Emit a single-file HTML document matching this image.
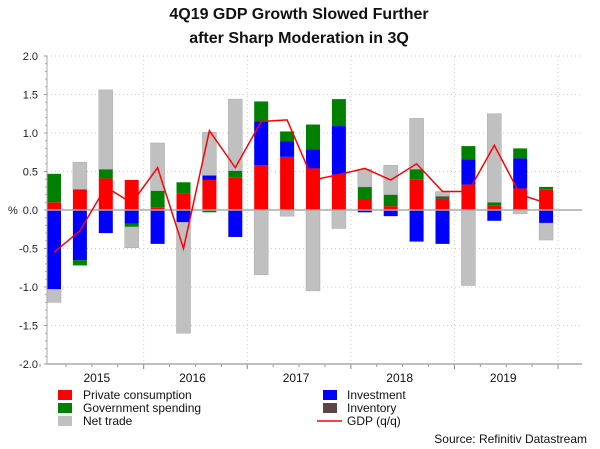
<!DOCTYPE html>
<html><head><meta charset="utf-8"><style>
html,body{margin:0;padding:0;background:#fff;}
svg{display:block;font-family:"Liberation Sans",Arial,sans-serif;}
</style></head><body>
<svg id="chart" width="600" height="449" viewBox="0 0 600 449">
<g>
<text x="299" y="19" text-anchor="middle" font-size="16" font-weight="bold" fill="#111">4Q19 GDP Growth Slowed Further</text>
<text x="299" y="43" text-anchor="middle" font-size="16" font-weight="bold" fill="#111">after Sharp Moderation in 3Q</text>
</g>
<g id="grid"></g>
<g id="bars"></g>
<g id="axes"></g>
<g id="line"></g>
<text x="8" y="214" font-size="11" fill="#222">%</text>
<g>
<g><rect x="58" y="390" width="14" height="10" fill="#ff0000"/><text x="83" y="399" font-size="12" fill="#111">Private consumption</text></g>
<g><rect x="58" y="403" width="14" height="10" fill="#008000"/><text x="83" y="412" font-size="12" fill="#111">Government spending</text></g>
<g><rect x="58" y="416" width="14" height="10" fill="#c0c0c0"/><text x="83" y="425" font-size="12" fill="#111">Net trade</text></g>
<g><rect x="323" y="390" width="14" height="10" fill="#0000ff"/><text x="347" y="399" font-size="12" fill="#111">Investment</text></g>
<g><rect x="323" y="403" width="14" height="10" fill="#5a4444"/><text x="347" y="412" font-size="12" fill="#111">Inventory</text></g>
<g><line x1="317" y1="421" x2="342" y2="421" stroke="#ff0000" stroke-width="1.5"/><text x="347" y="425" font-size="12" fill="#111">GDP (q/q)</text></g>
</g>
<text x="587" y="443" text-anchor="end" font-size="12" fill="#111">Source: Refinitiv Datastream</text>
</svg>
<script>
const years = ["2015","2016","2017","2018","2019"];
const yTicks = [2.0,1.5,1.0,0.5,0.0,-0.5,-1.0,-1.5,-2.0];
const privateCons = [0.10,0.27,0.41,0.39,0.03,0.22,0.39,0.42,0.58,0.69,0.54,0.46,0.13,0.05,0.40,0.13,0.33,0.06,0.28,0.27];
const investment = [-1.03,-0.65,-0.30,-0.18,-0.44,-0.16,0.06,-0.35,0.57,0.20,0.25,0.63,-0.03,-0.08,-0.41,-0.44,0.33,-0.14,0.39,-0.17];
const government = [0.37,-0.07,0.12,-0.04,0.22,0.14,-0.03,0.09,0.26,0.13,0.32,0.35,0.17,0.15,0.13,0.02,0.17,0.04,0.13,0.03];
const inventory = [0,0,0,0,0,0,0,0,0,0,0,0,0,0,0,0.03,0,0,0,0];
const netTrade = [-0.17,0.35,1.03,-0.27,0.62,-1.44,0.56,0.93,-0.84,-0.08,-1.05,-0.24,0.23,0.38,0.66,0.06,-0.98,1.15,-0.05,-0.22];
const gdp = [-0.55,-0.27,0.30,0.09,0.55,-0.50,1.03,0.55,1.15,1.17,0.39,0.46,0.54,0.39,0.60,0.24,0.24,0.84,0.20,0.09];

const NS="http://www.w3.org/2000/svg";
const X0=47, X1=582, Y_TOP=56, Y_BOT=364;
const yScale = v => 210 - v*77;
const xScale = i => 54 + i*25.9;
const BW=14;
function mk(tag, attrs, parent){const e=document.createElementNS(NS,tag);for(const k in attrs)e.setAttribute(k,attrs[k]);parent.appendChild(e);return e;}
const grid=document.getElementById('grid'), axes=document.getElementById('axes'), bars=document.getElementById('bars'), lineG=document.getElementById('line');

yTicks.forEach(t=>{
  const y=yScale(t);
  if(t!==0&&t!==-2){const g=mk('line',{x1:X0,x2:X1,y1:y,y2:y,stroke:'#ccc','stroke-dasharray':'1,3'},grid);
  
  }
  const lb=mk('text',{x:38,y:y+4,'text-anchor':'end','font-size':11,fill:'#222'},axes);
  lb.textContent=t.toFixed(1);
  
  
  mk('line',{x1:X0-3,x2:X0,y1:y,y2:y,stroke:'#999'},axes);
  if(t>-2){for(let m=1;m<5;m++){const ym=y+m*77/10;mk('line',{x1:X0-2,x2:X0,y1:ym,y2:ym,stroke:'#aaa'},axes);}}
});
years.forEach((yr,k)=>{
  const xb=xScale(4*k+3.5)-1;
  const v=mk('line',{x1:xb,x2:xb,y1:Y_TOP,y2:Y_BOT,stroke:'#ccc','stroke-dasharray':'1,3'},grid);
  
  
  mk('line',{x1:xb,x2:xb,y1:Y_BOT,y2:Y_BOT+5,stroke:'#888'},axes);
  const lb=mk('text',{x:xScale(4*k+1.5)+(k===0?4:-4),y:382,'text-anchor':'middle','font-size':12,fill:'#111'},axes);
  lb.textContent=yr;
  
  
});
for(let q=0;q<21;q++){const x=xScale(q-0.5)-1;mk('line',{x1:x,x2:x,y1:Y_BOT,y2:Y_BOT+3,stroke:'#999'},axes);}
mk('line',{x1:X0,x2:X0,y1:Y_TOP,y2:Y_BOT,stroke:'#aaa'},axes);
mk('line',{x1:X0,x2:X1,y1:Y_BOT,y2:Y_BOT,stroke:'#aaa','stroke-width':1.5},axes);

const series=[
 {vals:privateCons,color:'#ff0000',name:'private'},
 {vals:investment,color:'#0000ff',name:'investment'},
 {vals:government,color:'#008000',name:'government'},
 {vals:inventory,color:'#5a4444',name:'inventory'},
 {vals:netTrade,color:'#c0c0c0',name:'net-trade'}];
for(let i=0;i<privateCons.length;i++){
  let pos=0,neg=0;
  series.forEach(s=>{
    const v=s.vals[i]; if(!v)return;
    let a,b; if(v>0){a=pos;b=pos+v;pos=b;}else{a=neg;b=neg+v;neg=b;}
    const y1=yScale(Math.max(a,b)), y2=yScale(Math.min(a,b));
    const r=mk('rect',{x:xScale(i)-BW/2,y:y1,width:BW,height:Math.max(y2-y1,0.5),fill:s.color,stroke:s.name==='net-trade'?'#aaa':'none','stroke-width':0.5},bars);
    
    
  });
}
const zl=mk('line',{x1:X0,x2:X1,y1:yScale(0),y2:yScale(0),stroke:'#aaa','stroke-width':1.5},axes);


const pts=gdp.map((v,i)=>xScale(i)+','+yScale(v)).join(' ');
const pl=mk('polyline',{points:pts,fill:'none',stroke:'#ff0000','stroke-width':1.5},lineG);


</script>
</body></html>
